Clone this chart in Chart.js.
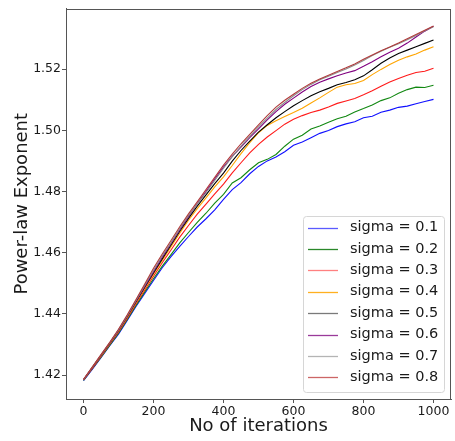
<!DOCTYPE html>
<html>
<head>
<meta charset="utf-8">
<script src="https://cdn.jsdelivr.net/npm/chart.js@4"></script>
<style>
html,body{margin:0;padding:0;background:#fff;}
#wrap{width:455px;height:441px;position:relative;}
</style>
</head>
<body>
<div id="wrap"><canvas id="c" width="455" height="441"></canvas></div>
<script>
const iterations = [0,25,50,75,100,125,150,175,200,225,250,275,300,325,350,375,400,425,450,475,500,525,550,575,600,625,650,675,700,725,750,775,800,825,850,875,900,925,950,975,1000];

const sigma01 = [1.4182,1.4219,1.4257,1.4296,1.4334,1.4379,1.4424,1.4467,1.4509,1.4551,1.4587,1.4621,1.4653,1.4684,1.4711,1.4740,1.4774,1.4806,1.4829,1.4858,1.4882,1.4900,1.4913,1.4930,1.4951,1.4962,1.4976,1.4990,1.4999,1.5012,1.5021,1.5028,1.5041,1.5046,1.5059,1.5066,1.5075,1.5079,1.5087,1.5094,1.5101];
const sigma02 = [1.4183,1.4221,1.4259,1.4298,1.4337,1.4382,1.4428,1.4472,1.4515,1.4556,1.4594,1.4632,1.4666,1.4699,1.4729,1.4762,1.4791,1.4828,1.4845,1.4871,1.4894,1.4905,1.4921,1.4948,1.4971,1.4984,1.5004,1.5014,1.5026,1.5038,1.5046,1.5060,1.5071,1.5083,1.5097,1.5106,1.5121,1.5133,1.5141,1.5140,1.5147];
const sigma03 = [1.4184,1.4222,1.4261,1.4301,1.4341,1.4386,1.4433,1.4478,1.4523,1.4567,1.4609,1.4651,1.4689,1.4726,1.4759,1.4792,1.4824,1.4861,1.4894,1.4926,1.4954,1.4978,1.4999,1.5020,1.5036,1.5048,1.5058,1.5066,1.5076,1.5088,1.5096,1.5104,1.5116,1.5129,1.5144,1.5158,1.5169,1.5180,1.5189,1.5193,1.5203];
const sigma04 = [1.4185,1.4224,1.4263,1.4303,1.4345,1.4390,1.4438,1.4484,1.4530,1.4575,1.4620,1.4664,1.4706,1.4744,1.4779,1.4815,1.4848,1.4885,1.4924,1.4960,1.4992,1.5016,1.5031,1.5045,1.5058,1.5072,1.5089,1.5106,1.5124,1.5141,1.5149,1.5153,1.5163,1.5182,1.5199,1.5215,1.5229,1.5240,1.5249,1.5262,1.5273];
const sigma05 = [1.4185,1.4225,1.4264,1.4304,1.4346,1.4392,1.4440,1.4487,1.4534,1.4580,1.4625,1.4670,1.4712,1.4752,1.4789,1.4826,1.4860,1.4899,1.4934,1.4965,1.4994,1.5018,1.5041,1.5061,1.5080,1.5097,1.5113,1.5126,1.5137,1.5149,1.5156,1.5165,1.5178,1.5198,1.5219,1.5236,1.5251,1.5262,1.5273,1.5284,1.5295];
const sigma06 = [1.4185,1.4225,1.4265,1.4305,1.4347,1.4393,1.4442,1.4490,1.4538,1.4585,1.4630,1.4675,1.4718,1.4760,1.4800,1.4841,1.4880,1.4915,1.4945,1.4976,1.5005,1.5034,1.5061,1.5085,1.5105,1.5125,1.5143,1.5157,1.5168,1.5178,1.5187,1.5195,1.5209,1.5224,1.5240,1.5255,1.5268,1.5285,1.5305,1.5324,1.5340];
const sigma07 = [1.4185,1.4226,1.4266,1.4306,1.4348,1.4394,1.4444,1.4494,1.4543,1.4590,1.4633,1.4679,1.4721,1.4759,1.4796,1.4836,1.4876,1.4914,1.4948,1.4980,1.5011,1.5040,1.5068,1.5091,1.5113,1.5133,1.5150,1.5165,1.5177,1.5189,1.5200,1.5213,1.5228,1.5244,1.5258,1.5271,1.5283,1.5296,1.5310,1.5325,1.5338];
const sigma08 = [1.4186,1.4226,1.4267,1.4307,1.4350,1.4397,1.4447,1.4498,1.4549,1.4596,1.4640,1.4685,1.4727,1.4766,1.4806,1.4846,1.4886,1.4922,1.4956,1.4987,1.5018,1.5048,1.5076,1.5098,1.5118,1.5137,1.5154,1.5168,1.5180,1.5192,1.5204,1.5217,1.5232,1.5246,1.5260,1.5272,1.5285,1.5299,1.5313,1.5327,1.5341];

const seriesLabels = ["sigma = 0.1","sigma = 0.2","sigma = 0.3","sigma = 0.4","sigma = 0.5","sigma = 0.6","sigma = 0.7","sigma = 0.8"];
const seriesValues = [sigma01,sigma02,sigma03,sigma04,sigma05,sigma06,sigma07,sigma08];
const xTickValues = [0,200,400,600,800,1000];
const yTickValues = [1.42,1.44,1.46,1.48,1.50,1.52];

const lineColors = ["#1010ff","#118811","#ff1a1a","#ffa500","#000000","#800080","#8c8c8c","#b03a3a"];
const legendColors = ["#5a5aff","#2a882a","#ff8080","#ffb020","#7a7a7a","#9a3a9a","#b4b4b4","#cc6666"];

const FONT = "'DejaVu Sans', sans-serif";

const datasets = seriesValues.map((vals, i) => ({
  label: seriesLabels[i],
  data: vals.map((v, j) => ({x: iterations[j], y: v})),
  borderColor: lineColors[i],
  backgroundColor: lineColors[i],
  borderWidth: 1.1,
  pointRadius: 0,
  tension: 0,
  order: seriesValues.length - i
}));

const frameAndLegend = {
  id: 'frameAndLegend',
  afterDatasetsDraw(chart) {
    const ctx = chart.ctx;
    const a = chart.chartArea;
    ctx.save();
    ctx.strokeStyle = '#555555';
    ctx.lineWidth = 1;
    ctx.strokeRect(Math.round(a.left) + 0.5, Math.round(a.top) + 0.5, Math.round(a.right - a.left) - 1, Math.round(a.bottom - a.top) - 1);
    const bx = 303.5, by = 216.5, bw = 141, bh = 176, r = 3;
    ctx.beginPath();
    ctx.moveTo(bx + r, by);
    ctx.lineTo(bx + bw - r, by);
    ctx.quadraticCurveTo(bx + bw, by, bx + bw, by + r);
    ctx.lineTo(bx + bw, by + bh - r);
    ctx.quadraticCurveTo(bx + bw, by + bh, bx + bw - r, by + bh);
    ctx.lineTo(bx + r, by + bh);
    ctx.quadraticCurveTo(bx, by + bh, bx, by + bh - r);
    ctx.lineTo(bx, by + r);
    ctx.quadraticCurveTo(bx, by, bx + r, by);
    ctx.closePath();
    ctx.fillStyle = 'rgba(255,255,255,0.85)';
    ctx.fill();
    ctx.strokeStyle = '#d6d6d6';
    ctx.stroke();
    ctx.font = "14.5px " + FONT;
    ctx.textBaseline = 'middle';
    ctx.textAlign = 'left';
    chart.data.datasets.forEach((ds, i) => {
      const y = 227.5 + i * 21.4;
      ctx.strokeStyle = legendColors[i];
      ctx.lineWidth = 1.3;
      ctx.beginPath();
      ctx.moveTo(308, Math.round(y) + 0.5);
      ctx.lineTo(338, Math.round(y) + 0.5);
      ctx.stroke();
      ctx.fillStyle = '#1a1a1a';
      ctx.fillText(ds.label, 350, y);
    });
    ctx.restore();
  }
};

new Chart(document.getElementById('c'), {
  type: 'line',
  data: { datasets },
  plugins: [frameAndLegend],
  options: {
    responsive: false,
    animation: false,
    devicePixelRatio: 1,
    layout: { padding: { top: 6, right: 4, left: 0, bottom: 0 } },
    plugins: { legend: { display: false }, tooltip: { enabled: false } },
    scales: {
      x: {
        type: 'linear',
        min: -50,
        max: 1050,
        afterBuildTicks: (s) => { s.ticks = xTickValues.map(v => ({value: v})); },
        afterFit: (s) => { s.height = 42; },
        border: { display: true, color: '#555555', width: 1 },
        grid: { display: true, drawOnChartArea: false, drawTicks: true, tickLength: 4, color: '#555555' },
        ticks: { color: '#1a1a1a', padding: 1, font: { family: FONT, size: 12.5 }, maxRotation: 0, callback: (v) => String(v) },
        title: { display: true, text: 'No of iterations', color: '#1a1a1a', font: { family: FONT, size: 18 }, padding: { top: 0, bottom: 4 } }
      },
      y: {
        type: 'linear',
        min: 1.4122,
        max: 1.5398,
        afterBuildTicks: (s) => { s.ticks = yTickValues.map(v => ({value: v})); },
        afterFit: (s) => { s.width = 66; },
        border: { display: true, color: '#555555', width: 1 },
        grid: { display: true, drawOnChartArea: false, drawTicks: true, tickLength: 4, color: '#555555' },
        ticks: { color: '#1a1a1a', padding: 1, font: { family: FONT, size: 12.5 }, callback: (v) => Number(v).toFixed(2) },
        title: { display: true, text: 'Power-law Exponent', color: '#1a1a1a', font: { family: FONT, size: 18 }, padding: { top: 12, bottom: 0 } }
      }
    }
  }
});
</script>
</body>
</html>
